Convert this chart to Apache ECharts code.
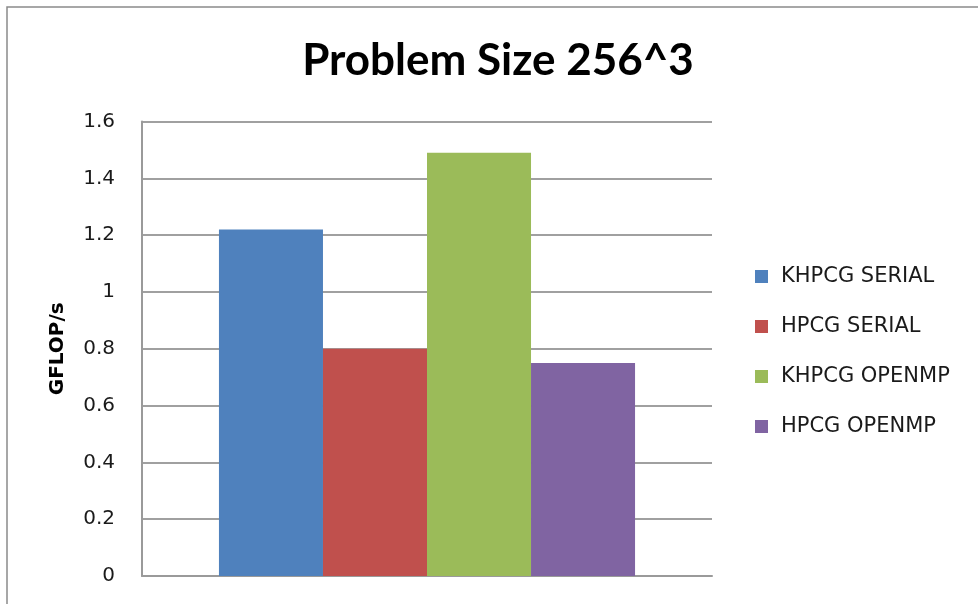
<!DOCTYPE html>
<html>
<head>
<meta charset="utf-8">
<script src="https://cdn.jsdelivr.net/npm/echarts@6/dist/echarts.min.js"></script>
<style>
  html, body { margin: 0; padding: 0; background: #fff; }
  #chart { width: 978px; height: 604px; }
</style>
</head>
<body>
<div id="chart"></div>
<script>
// GFLOP/s measured for the 256^3 problem size
const category = [''];
const seriesNames = ['KHPCG SERIAL', 'HPCG SERIAL', 'KHPCG OPENMP', 'HPCG OPENMP'];
const khpcgSerial = [1.22];
const hpcgSerial = [0.80];
const khpcgOpenmp = [1.49];
const hpcgOpenmp = [0.75];
const seriesColors = ['#4F81BD', '#C0504D', '#9BBB59', '#8064A2'];
const yTicks = [0, 0.2, 0.4, 0.6, 0.8, 1, 1.2, 1.4, 1.6];

const seriesData = [khpcgSerial, hpcgSerial, khpcgOpenmp, hpcgOpenmp];
const TITLE_FONT = 'Lato';
const TEXT_FONT = 'DejaVu Sans';

const chart = echarts.init(document.getElementById('chart'), null, { renderer: 'canvas' });
chart.setOption({
  animation: false,
  backgroundColor: '#ffffff',
  graphic: [{
    type: 'rect',
    shape: { x: 7, y: 7, width: 1000, height: 640 },
    style: { fill: 'none', stroke: '#8a8a8a', lineWidth: 1.5 },
    silent: true
  }],
  title: {
    text: 'Problem Size 256^3',
    left: 493,
    textAlign: 'center',
    top: 34,
    textStyle: { fontFamily: TITLE_FONT, fontWeight: 'bold', fontSize: 44, color: '#000' }
  },
  legend: {
    orient: 'vertical',
    left: 755,
    top: 266,
    padding: 0,
    itemWidth: 13,
    itemHeight: 13,
    itemGap: 29,
    icon: 'rect',
    data: seriesNames,
    textStyle: { fontFamily: TEXT_FONT, fontSize: 21, lineHeight: 21, color: '#1a1a1a', padding: [0, 0, 0, 8] }
  },
  grid: { left: 142, right: 266, top: 121.5, bottom: 28, containLabel: false },
  xAxis: {
    type: 'category',
    data: category,
    axisLine: { show: true, lineStyle: { color: '#9a9a9a', width: 2 } },
    axisTick: { show: false },
    axisLabel: { show: false }
  },
  yAxis: {
    type: 'value',
    min: yTicks[0],
    max: yTicks[yTicks.length - 1],
    interval: 0.2,
    name: 'GFLOP/s',
    nameLocation: 'middle',
    nameGap: 74,
    nameTextStyle: { fontFamily: TEXT_FONT, fontWeight: 'bold', fontSize: 20, color: '#000' },
    axisLine: { show: true, lineStyle: { color: '#9a9a9a', width: 2 } },
    axisTick: { show: false },
    axisLabel: {
      margin: 27,
      fontFamily: TEXT_FONT,
      fontSize: 20,
      color: '#1a1a1a',
      formatter: v => String(Math.round(v * 10) / 10)
    },
    splitLine: { show: true, lineStyle: { color: '#a0a0a0', width: 2 } }
  },
  series: seriesNames.map((name, i) => ({
    name,
    type: 'bar',
    data: seriesData[i],
    barGap: '0%',
    barCategoryGap: '27%',
    itemStyle: { color: seriesColors[i] }
  }))
});
</script>
</body>
</html>
